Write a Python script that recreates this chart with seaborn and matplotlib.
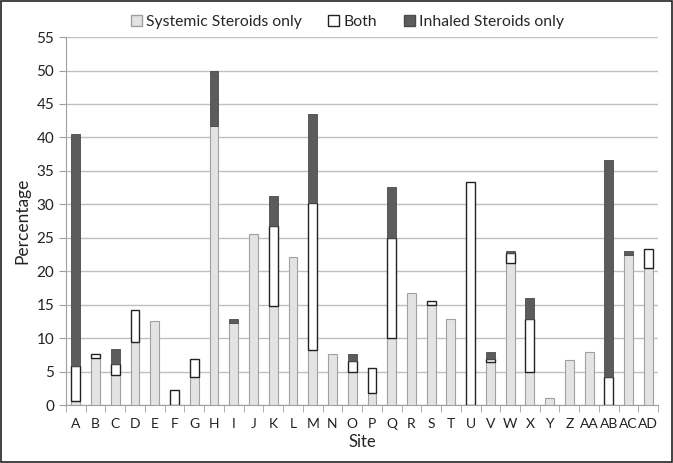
import numpy as np
import pandas as pd
import seaborn as sns
import matplotlib.pyplot as plt
from matplotlib.patches import Patch, Rectangle
from matplotlib.ticker import MultipleLocator, FixedLocator

# 数据
sites = ['A', 'B', 'C', 'D', 'E', 'F', 'G', 'H', 'I', 'J', 'K', 'L', 'M', 'N', 'O',
         'P', 'Q', 'R', 'S', 'T', 'U', 'V', 'W', 'X', 'Y', 'Z', 'AA', 'AB', 'AC', 'AD']
systemic = [0.6, 7.0, 4.5, 9.5, 12.5, 0.0, 4.2, 41.7, 12.3, 25.5, 14.8, 22.2, 8.3, 7.6, 5.0,
            1.8, 10.0, 16.7, 15.0, 12.9, 0.0, 6.5, 21.2, 5.0, 1.1, 6.7, 8.0, 0.0, 22.5, 20.5]
both = [5.2, 0.6, 1.6, 4.7, 0.0, 2.2, 2.7, 0.0, 0.0, 0.0, 11.9, 0.0, 21.9, 0.0, 1.6,
        3.7, 15.0, 0.0, 0.5, 0.0, 33.3, 0.4, 1.5, 7.9, 0.0, 0.0, 0.0, 4.2, 0.0, 2.8]
inhaled = [34.7, 0.0, 2.3, 0.0, 0.0, 0.0, 0.0, 8.3, 0.6, 0.0, 4.5, 0.0, 13.3, 0.0, 1.0,
           0.0, 7.6, 0.0, 0.0, 0.0, 0.0, 1.0, 0.4, 3.1, 0.0, 0.0, 0.0, 32.5, 0.6, 0.0]

df = pd.DataFrame({'Site': sites, 'systemic': systemic, 'both': both, 'inhaled': inhaled})
df['base2'] = df['systemic']
df['base3'] = df['systemic'] + df['both']

sns.set_style('white')
plt.rcParams['font.family'] = ['Lato', 'DejaVu Sans']

fig = plt.figure(figsize=(6.73, 4.63), dpi=100)
ax = fig.add_axes([0.098, 0.125, 0.880, 0.795])

w = 0.45
sns.barplot(data=df, x='Site', y='systemic', order=sites, color='#e3e3e3',
            edgecolor='#a0a0a0', linewidth=0.8, width=w, saturation=1, ax=ax, zorder=3)
sns.barplot(data=df[df['both'] > 0], x='Site', y='both', order=sites, color='white',
            edgecolor='#222222', linewidth=1.0, width=w, saturation=1, ax=ax, zorder=3,
            bottom=df[df['both'] > 0]['base2'].values)
sns.barplot(data=df[df['inhaled'] > 0], x='Site', y='inhaled', order=sites, color='#5c5c5c',
            edgecolor='#4a4a4a', linewidth=0.6, width=w, saturation=1, ax=ax, zorder=3,
            bottom=df[df['inhaled'] > 0]['base3'].values)

ax.set_ylim(0, 55)
ax.set_xlim(-0.5, len(sites) - 0.5)
ax.yaxis.set_major_locator(MultipleLocator(5))
ax.yaxis.grid(True, color='#c0c0c0', linewidth=1.0, zorder=0)
ax.set_axisbelow(True)
for s in ['top', 'right']:
    ax.spines[s].set_visible(False)
ax.spines['left'].set_color('#a0a0a0')
ax.spines['bottom'].set_color('#a0a0a0')
ax.xaxis.set_minor_locator(FixedLocator(np.arange(-0.5, len(sites), 1.0)))
ax.tick_params(axis='x', which='major', length=0, labelsize=10, colors='#222222', pad=9)
ax.tick_params(axis='x', which='minor', length=5, color='#a0a0a0', direction='out', bottom=True)
ax.tick_params(axis='y', length=5, color='#a0a0a0', labelsize=11, colors='#222222', left=True)
ax.set_xlabel('Site', fontsize=12, color='#222222', labelpad=3)
ax.set_ylabel('Percentage', fontsize=12.5, color='#222222', labelpad=4)

handles = [Patch(facecolor='#e3e3e3', edgecolor='#a0a0a0', label='Systemic Steroids only'),
           Patch(facecolor='white', edgecolor='#222222', label='Both'),
           Patch(facecolor='#5c5c5c', edgecolor='#4a4a4a', label='Inhaled Steroids only')]
fig.legend(handles=handles, loc='center', bbox_to_anchor=(0.516, 0.952), ncol=3,
           frameon=False, fontsize=11.3, handlelength=0.7, handleheight=0.7,
           handletextpad=0.25, columnspacing=1.7)

fig.patches.append(Rectangle((0.002, 0.002), 0.996, 0.996, transform=fig.transFigure,
                             fill=False, edgecolor='#222222', linewidth=1.2))

fig.savefig('out.png', dpi=100)
